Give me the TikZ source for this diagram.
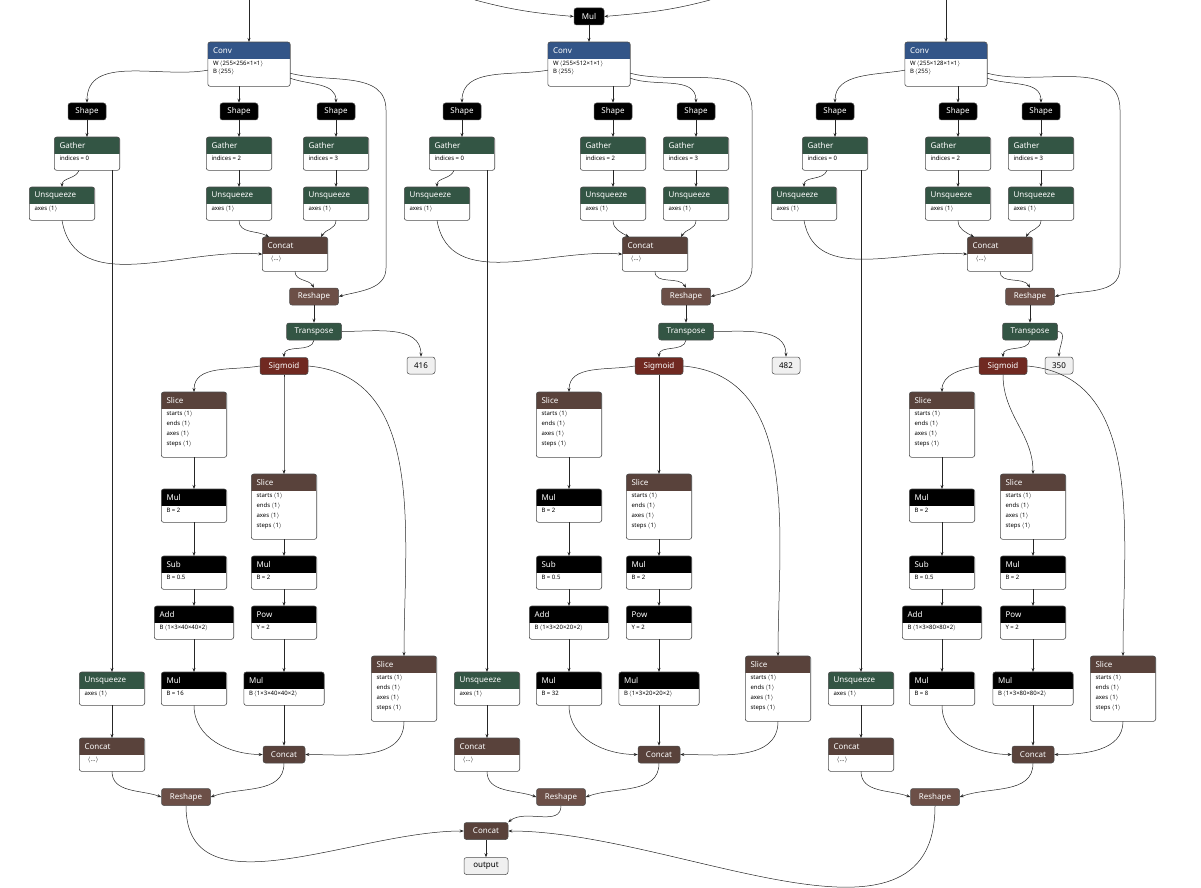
\documentclass[tikz,border=0pt]{standalone}
\usepackage{fontspec}
\setmainfont{Noto Sans}
\usetikzlibrary{arrows.meta}
\definecolor{cblue}{RGB}{51,85,136}
\definecolor{cgreen}{RGB}{51,85,68}
\definecolor{ctensor}{RGB}{89,66,59}
\definecolor{cshape}{RGB}{108,79,71}
\definecolor{cact}{RGB}{112,41,33}
\tikzset{
 e/.style={-{Stealth[length=4pt,width=3pt]}, line width=0.5pt, black!85},
 boxshape/.style={rectangle, draw=none, inner sep=0pt},
 ttl/.style={text=white, font=\fontsize{8}{9}\selectfont, inner sep=0pt},
 bdy/.style={font=\fontsize{6}{10}\selectfont, inner sep=0pt, align=left},
 pill/.style={rounded corners=2.5pt, minimum height=17pt, inner sep=1pt, text=white, draw=gray!60!black, line width=0.5pt, font=\fontsize{8}{9}\selectfont},
 cst/.style={pill, fill=gray!12, text=black}
}
\newcommand\bx[8]{%
 \node[boxshape, minimum width=#4pt, minimum height=#5pt, anchor=north] (#1) at (#2,#3) {};
 \begin{scope}
 \clip[rounded corners=2.5pt] (#1.north west) rectangle (#1.south east);
 \fill[white] (#1.north west) rectangle (#1.south east);
 \fill[#6] (#1.north west) rectangle ([yshift=-17pt]#1.north east);
 \end{scope}
 \draw[rounded corners=2.5pt, gray!60!black, line width=0.6pt] (#1.north west) rectangle (#1.south east);
 \node[ttl, anchor=west] at ([xshift=5pt,yshift=-8.5pt]#1.north west) {#7};
 \node[bdy, anchor=north west] at ([xshift=5pt,yshift=-19pt]#1.north west) {#8};
}
\newcommand\one{\,$\langle$1$\rangle$}
\newcommand\sliceb{\textbf{starts}\one\\\textbf{ends}\one\\\textbf{axes}\one\\\textbf{steps}\one}
\newcommand\drawcol[1]{%
 \bx{#1conv}{\cv}{42}{82}{44}{cblue}{Conv}{\textbf{W}\,$\langle$\wv$\rangle$\\[-2pt]\textbf{B}\,$\langle$255$\rangle$}
 \node[pill, fill=black, minimum width=38pt] (#1sh1) at (\ax,111.5) {Shape};
 \node[pill, fill=black, minimum width=38pt] (#1sh2) at (\bxx,111.5) {Shape};
 \node[pill, fill=black, minimum width=38pt] (#1sh3) at (\cxx,111.5) {Shape};
 \bx{#1g1}{\ax}{137}{65}{33}{cgreen}{Gather}{indices = 0}
 \bx{#1g2}{\bxx}{137}{65}{33}{cgreen}{Gather}{indices = 2}
 \bx{#1g3}{\cxx}{137}{65}{33}{cgreen}{Gather}{indices = 3}
 \bx{#1u1}{\ux}{187}{65}{33}{cgreen}{Unsqueeze}{\textbf{axes}\one}
 \bx{#1u2}{\bxx}{187}{65}{33}{cgreen}{Unsqueeze}{\textbf{axes}\one}
 \bx{#1u3}{\cxx}{187}{65}{33}{cgreen}{Unsqueeze}{\textbf{axes}\one}
 \bx{#1cc}{\ccx}{237}{65}{34}{ctensor}{Concat}{\ \ $\langle$...$\rangle$}
 \node[pill, fill=cshape, minimum width=49pt] (#1rs) at (\rsx,296.5) {Reshape};
 \node[pill, fill=cgreen, minimum width=55pt] (#1tr) at (\rsx,331.5) {Transpose};
 \node[pill, fill=cact, minimum width=48pt] (#1sig) at (\sgx,366) {Sigmoid};
 \node[cst, minimum width=28pt] (#1k) at (\kx,365.5) {\kl};
 \bx{#1sl1}{\sa}{392}{65}{65}{ctensor}{Slice}{\sliceb}
 \bx{#1m1}{\sa}{489}{65}{33}{black}{Mul}{B = 2}
 \bx{#1sub}{\sa}{556}{65}{33}{black}{Sub}{B = 0.5}
 \bx{#1add}{\sa}{606}{79}{33}{black}{Add}{\textbf{B}\,$\langle$\ab$\rangle$}
 \bx{#1mB}{\sa}{672}{65}{33}{black}{Mul}{B = \mb}
 \bx{#1sl2}{\sb}{474}{65}{65}{ctensor}{Slice}{\sliceb}
 \bx{#1m2}{\sb}{556}{65}{33}{black}{Mul}{B = 2}
 \bx{#1pow}{\sb}{606}{65}{33}{black}{Pow}{Y = 2}
 \bx{#1mC}{\sb}{672}{80}{33}{black}{Mul}{\textbf{B}\,$\langle$\ab$\rangle$}
 \bx{#1sl3}{\sc}{656}{65}{65}{ctensor}{Slice}{\sliceb}
 \bx{#1uB}{\uBx}{672}{65}{33}{cgreen}{Unsqueeze}{\textbf{axes}\one}
 \bx{#1cB}{\uBx}{738}{65}{33}{ctensor}{Concat}{\ \ $\langle$...$\rangle$}
 \node[pill, fill=ctensor, minimum width=42pt] (#1ccs) at (\sb,754.5) {Concat};
 \node[pill, fill=cshape, minimum width=49pt] (#1rsB) at (\rbx,797) {Reshape};
 % edges
 \draw[e] ([yshift=-6pt]#1conv.west) to[out=190,in=90] (#1sh1.north);
 \draw[e] (#1conv.south -| #1sh2.north) -- (#1sh2.north);
 \draw[e] ([yshift=-14pt]#1conv.east) to[out=-20,in=90] (#1sh3.north);
 \coordinate (#1ra) at (\rlx,110);
 \coordinate (#1rb) at (\rlx,268);
 \draw[e] ([yshift=-9pt]#1conv.east) to[out=-15,in=90] (#1ra) -- (#1rb) to[out=-90,in=15] (#1rs.east);
 \draw[e] (#1sh1) -- (#1g1);
 \draw[e] (#1sh2) -- (#1g2);
 \draw[e] (#1sh3) -- (#1g3);
 \draw[e] ([xshift=-8pt]#1g1.south) to[out=-110,in=90] (#1u1.north);
 \draw[e] (#1g2) -- (#1u2);
 \draw[e] (#1g3) -- (#1u3);
 \draw[e] (#1g1.south -| #1uB.north) -- (#1uB.north);
 \draw[e] (#1u1.south) to[out=-80,in=175] (#1cc.west);
 \draw[e] (#1u2.south) to[out=-90,in=150] ([xshift=-26pt]#1cc.north);
 \draw[e] (#1u3.south) to[out=-90,in=60] ([xshift=26pt]#1cc.north);
 \draw[e] (#1cc.south) to[out=-90,in=120] (#1rs.north);
 \draw[e] (#1rs) -- (#1tr);
 \draw[e] (#1tr.south) to[out=-100,in=90] (#1sig.north);
 \draw[e] (#1tr.east) to[out=0,in=90] (#1k.north);
 \draw[e] (#1sig.west) to[out=190,in=90] (#1sl1.north);
 \draw[e] (#1sig.south) to[out=-90,in=90] (#1sl2.north);
 \draw[e] (#1sig.east) to[out=-5,in=90] (#1sl3.north);
 \draw[e] (#1sl1) -- (#1m1);
 \draw[e] (#1m1) -- (#1sub);
 \draw[e] (#1sub) -- (#1add);
 \draw[e] (#1add) -- (#1mB);
 \draw[e] (#1sl2) -- (#1m2);
 \draw[e] (#1m2) -- (#1pow);
 \draw[e] (#1pow) -- (#1mC);
 \draw[e] (#1mB.south) to[out=-90,in=180] (#1ccs.west);
 \draw[e] (#1mC) -- (#1ccs);
 \draw[e] (#1sl3.south) to[out=-90,in=0] (#1ccs.east);
 \draw[e] (#1uB) -- (#1cB);
 \draw[e] (#1cB.south) to[out=-90,in=160] (#1rsB.west);
 \draw[e] (#1ccs.south) to[out=-90,in=20] (#1rsB.east);
}
\begin{document}
\begin{tikzpicture}[x=1pt,y=-1pt]
\useasboundingbox (0,0) rectangle (1201,888);
% column 1
\def\cv{249}\def\wv{255×256×1×1}\def\ax{87}\def\ux{62}\def\bxx{239}\def\cxx{336}
\def\ccx{295}\def\rsx{314}\def\rlx{386}\def\sgx{284}\def\kx{421}\def\kl{416}
\def\sa{194}\def\sb{284}\def\sc{404}\def\ab{1×3×40×40×2}\def\mb{16}\def\uBx{112}\def\rbx{186}
\drawcol{a}
% column 2
\def\cv{589}\def\wv{255×512×1×1}\def\ax{462}\def\ux{437}\def\bxx{613}\def\cxx{696}
\def\ccx{655}\def\rsx{686}\def\rlx{752}\def\sgx{659}\def\kx{786}\def\kl{482}
\def\sa{569}\def\sb{659}\def\sc{778}\def\ab{1×3×20×20×2}\def\mb{32}\def\uBx{487}\def\rbx{561}
\drawcol{b}
% column 3
\def\cv{946}\def\wv{255×128×1×1}\def\ax{835}\def\ux{804}\def\bxx{958}\def\cxx{1041}
\def\ccx{1000}\def\rsx{1030}\def\rlx{1120}\def\sgx{1003}\def\kx{1059}\def\kl{350}
\def\sa{942}\def\sb{1033}\def\sc{1123}\def\ab{1×3×80×80×2}\def\mb{8}\def\uBx{861}\def\rbx{935}
\drawcol{c}
% tops
\coordinate (ta) at (249,0);
\coordinate (tc) at (946,0);
\draw[e] (ta) -- (aconv.north);
\draw[e] (tc) -- (cconv.north);
\node[pill, fill=black, minimum width=30pt] (mul) at (589,16.5) {Mul};
\coordinate (mL) at (475,0);
\coordinate (mR) at (710,0);
\draw[e] (mL) to[out=-15,in=175] (mul.west);
\draw[e] (mR) to[out=195,in=5] (mul.east);
\draw[e] (mul) -- (bconv);
% final
\node[pill, fill=ctensor, minimum width=44pt] (fin) at (486,831) {Concat};
\node[cst, minimum width=44pt] (out) at (486,866) {output};
\draw[e] (arsB.south) to[out=-90,in=180] (fin.west);
\draw[e] (brsB.south) to[out=-90,in=40] (fin.north east);
\draw[e] (crsB.south) to[out=-90,in=0] (fin.east);
\draw[e] (fin) -- (out);
\end{tikzpicture}
\end{document}
